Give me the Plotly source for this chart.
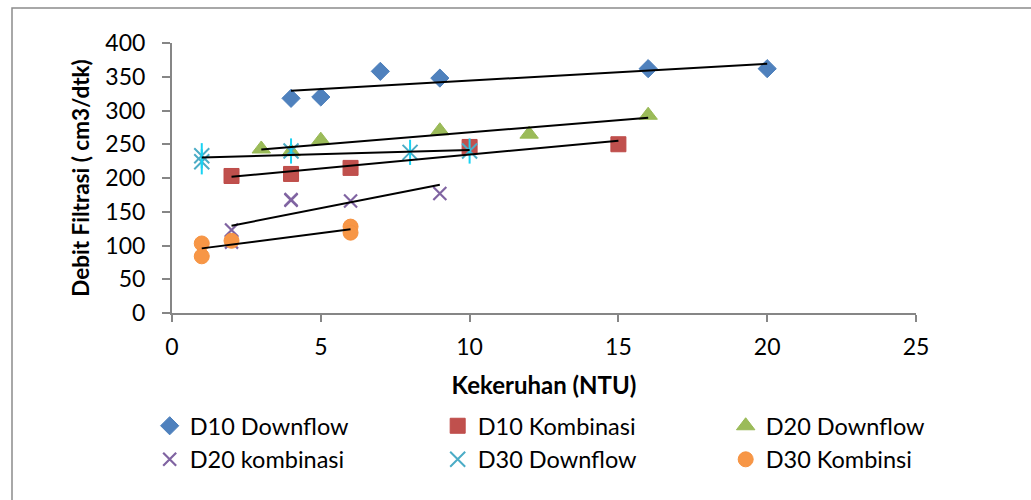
import numpy as np
import plotly.graph_objects as go

# ---- data ----
d10_down_x = [4, 5, 7, 9, 16, 20]
d10_down_y = [318, 320, 358, 348, 362, 362]

d10_komb_x = [2, 4, 6, 10, 15]
d10_komb_y = [203, 206, 215, 246, 250]

d20_down_x = [3, 4, 5, 9, 12, 16]
d20_down_y = [243, 239, 256, 270, 265, 293]

d20_komb_x = [2, 2, 4, 4, 6, 9]
d20_komb_y = [123, 105, 167, 168, 166, 177]

d30_down_x = [1, 1, 4, 8, 10]
d30_down_y = [233, 224, 240, 238, 240]

d30_komb_x = [1, 1, 2, 6, 6]
d30_komb_y = [103, 84, 107, 128, 119]

x_ticks = [0, 5, 10, 15, 20, 25]
y_ticks = [0, 50, 100, 150, 200, 250, 300, 350, 400]

# ---- figure geometry (pixels) ----
W, H = 1031, 500
ML, MR, MT, MB = 172, 115, 43, 187
PW, PH = W - ML - MR, H - MT - MB

FONT = "Lato"
AXIS_GRAY = "#868686"

series = [
    ("D10 Downflow", d10_down_x, d10_down_y,
     dict(symbol="diamond", size=14, color="#4F81BD", line=dict(width=1, color="#4A7EBB"))),
    ("D10 Kombinasi", d10_komb_x, d10_komb_y,
     dict(symbol="square", size=15, color="#C0504D", line=dict(width=1, color="#BE4B48"))),
    ("D20 Downflow", d20_down_x, d20_down_y,
     dict(symbol="triangle-up", size=16, color="#9BBB59", line=dict(width=1, color="#98B954"))),
    ("D20 kombinasi", d20_komb_x, d20_komb_y,
     dict(symbol="x-thin-open", size=13, color="#8064A2", line=dict(width=2.2, color="#8064A2"))),
    ("D30 Downflow", d30_down_x, d30_down_y,
     dict(symbol="x-thin-open", size=15, color="#4BACC6", line=dict(width=2, color="#4BACC6"))),
    ("D30 Kombinsi", d30_komb_x, d30_komb_y,
     dict(symbol="circle", size=15, color="#F79646", line=dict(width=1, color="#F69240"))),
]

fig = go.Figure()
for name, xs, ys, mk in series:
    fig.add_trace(go.Scatter(x=xs, y=ys, mode="markers", name=name, marker=mk))
    if name == "D30 Downflow":
        # vertical stroke of the Excel star marker
        fig.add_trace(go.Scatter(x=xs, y=ys, mode="markers", showlegend=False,
                                 hoverinfo="skip",
                                 marker=dict(symbol="line-ns-open", size=18,
                                             line=dict(width=2, color="#4BACC6"))))

# linear trendlines (least squares over each series' range)
for name, xs, ys, mk in series:
    k, b = np.polyfit(xs, ys, 1)
    x0, x1 = min(xs), max(xs)
    fig.add_trace(go.Scatter(x=[x0, x1], y=[k * x0 + b, k * x1 + b], mode="lines",
                             showlegend=False, hoverinfo="skip",
                             line=dict(color="black", width=2)))

# outer chart border (extends past right and bottom edges)
def px_x(p):
    return (p - ML) / PW

def px_y(p):
    return (H - MB - p) / PH

fig.add_shape(type="rect", xref="paper", yref="paper",
              x0=px_x(12), x1=px_x(1040), y0=px_y(510), y1=px_y(8),
              line=dict(color="#8C8C8C", width=1.5), fillcolor="rgba(0,0,0,0)",
              layer="below")

fig.update_layout(
    width=W, height=H,
    margin=dict(l=ML, r=MR, t=MT, b=MB, autoexpand=False),
    paper_bgcolor="white", plot_bgcolor="white",
    font=dict(family=FONT, size=23, color="black"),
    showlegend=True,
    legend=dict(orientation="h", x=-0.03, xanchor="left", y=-0.337, yanchor="top",
                entrywidth=243, entrywidthmode="pixels",
                font=dict(family=FONT, size=23.5, color="black"),
                bgcolor="rgba(0,0,0,0)", itemwidth=30, tracegroupgap=0),
    xaxis=dict(range=[0, 25], tickvals=x_ticks, showgrid=False, zeroline=False,
               showline=True, linecolor=AXIS_GRAY, linewidth=2,
               ticks="outside", ticklen=7, tickwidth=2, tickcolor=AXIS_GRAY,
               ticklabelstandoff=5, tickfont=dict(family=FONT, size=23),
               automargin=False,
               title=dict(text="<b>Kekeruhan (NTU)</b>", standoff=19,
                          font=dict(family=FONT, size=24))),
    yaxis=dict(range=[0, 400], tickvals=y_ticks, showgrid=False, zeroline=False,
               showline=True, linecolor=AXIS_GRAY, linewidth=2,
               ticks="outside", ticklen=8, tickwidth=2, tickcolor=AXIS_GRAY,
               ticklabelstandoff=12, tickfont=dict(family=FONT, size=23),
               automargin=False,
               title=dict(text="<b>Debit Filtrasi ( cm3/dtk)</b>", standoff=9,
                          font=dict(family=FONT, size=22.5))),
)

fig.write_html("out.html")
